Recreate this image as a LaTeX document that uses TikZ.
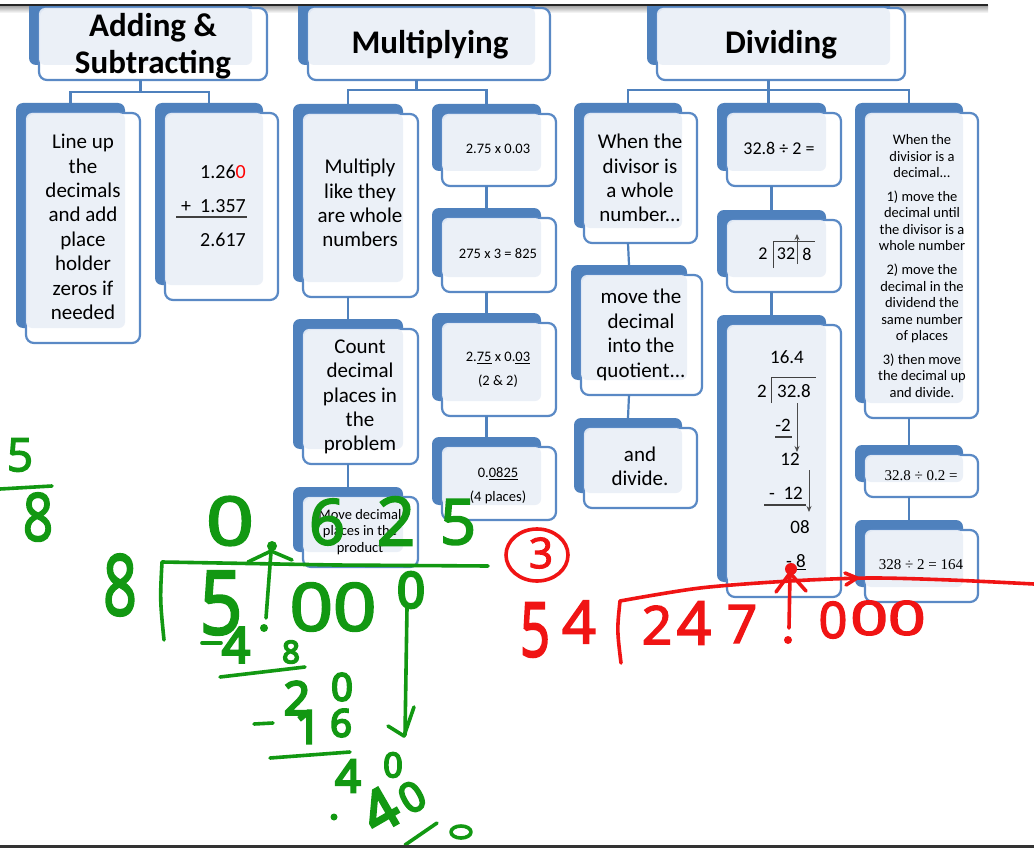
\documentclass[tikz,border=0pt]{standalone}
\usepackage{fontspec}
\setmainfont{Carlito}
\newfontfamily\timesfont{Liberation Serif}
\newfontfamily\handfont[FakeBold=3]{Open Sans}
\newfontfamily\handheavy[FakeBold=5.5]{Open Sans}
\usetikzlibrary{fit,arrows.meta,positioning}

\definecolor{cardblue}{HTML}{4F81BD}
\definecolor{cardedge}{HTML}{5A89C5}
\definecolor{cardfill}{HTML}{EAEFF7}
\definecolor{inkgreen}{HTML}{129812}
\definecolor{inkred}{HTML}{F01414}

\tikzset{
  backcard/.style={fill=cardblue, rounded corners=7pt},
  frontcard/.style={fill=white, draw=cardedge, line width=2.2pt, rounded corners=8pt},
  glass/.style={fill=cardfill, fill opacity=0.92, rounded corners=6pt},
  link/.style={draw=cardblue, line width=2.2pt},
  headtext/.style={font=\fontsize{33}{37}\selectfont\bfseries, align=center, inner sep=0pt},
  cardtext/.style={font=\fontsize{21}{24.4}\selectfont, align=center, inner sep=0pt},
  smalltext/.style={font=\fontsize{14.5}{16.5}\selectfont, align=center, inner sep=0pt},
  steptext/.style={font=\fontsize{14.5}{24}\selectfont, align=center, inner sep=0pt},
  notetext/.style={font=\fontsize{14.5}{16.6}\selectfont, align=center, inner sep=0pt},
  sumtext/.style={font=\fontsize{20}{34}\selectfont, align=right, inner sep=0pt},
  longtext/.style={font=\fontsize{19}{19}\selectfont, inner sep=0pt},
  divtext/.style={font=\fontsize{18}{18}\selectfont, inner sep=0pt},
  timestext/.style={font=\timesfont\fontsize{15}{15}\selectfont, inner sep=0pt},
  rulestroke/.style={draw=black!75, line width=1.3pt},
  bringdown/.style={draw=black!70, line width=0.8pt, -{Stealth[length=6pt,width=5pt]}},
  greenink/.style={draw=inkgreen, line width=3.6pt, line cap=round, line join=round},
  redink/.style={draw=inkred, line width=3.6pt, line cap=round, line join=round},
  greendigit/.style={text=inkgreen, inner sep=0pt, font=\handfont\fontsize{#1}{#1}\selectfont},
  greensmall/.style={text=inkgreen, inner sep=0pt, font=\handheavy\fontsize{#1}{#1}\selectfont},
  reddigit/.style={text=inkred, inner sep=0pt, font=\handfont\fontsize{#1}{#1}\selectfont},
}

% card: name, front top left, front bottom right
\newcommand{\smartcard}[3]{%
  \coordinate (#1-tl) at (#2);
  \coordinate (#1-br) at (#3);
  \coordinate (#1-btl) at ([shift={(-10,-10)}]#1-tl);
  \coordinate (#1-bbr) at ([shift={(-15,-15)}]#1-br);
  \node[fit=(#1-tl)(#1-br), inner sep=0pt] (#1) {};
  \node[fit=(#1-btl)(#1-bbr), inner sep=0pt] (#1-back) {};
  \fill[backcard] (#1-btl) rectangle (#1-bbr);
  \draw[frontcard] (#1-tl) rectangle (#1-br);
  \fill[glass] (#1-tl) rectangle (#1-bbr);
}

\begin{document}
\begin{tikzpicture}[x=1pt, y=-1pt]
\useasboundingbox (0,0) rectangle (1034,848);
\fill[white] (0,0) rectangle (1034,848);

%page edges
\shade[top color=black!35, bottom color=white] (0,6) rectangle (988,13);
\draw[black!85, line width=2.5pt] (0,5) -- (988,5);

\begin{scope}
\clip (0,7) rectangle (1034,848);
%headers
\smartcard{addhead}{39,8}{267,80}
\smartcard{mulhead}{308,8}{550,80}
\smartcard{divhead}{657,8}{905,80}
%adding column
\smartcard{addrule}{26,113}{140,343}
\smartcard{addsum}{165,113}{278,300}
%multiplying columns
\smartcard{mulwhole}{303,114}{418,297}
\smartcard{mulcount}{303,329}{418,464}
\smartcard{mulmove}{303,497}{418,567}
\smartcard{mulex}{442,114}{556,186}
\smartcard{mulint}{442,218}{556,292}
\smartcard{mulplaces}{442,323}{556,416}
\smartcard{mulprod}{442,447}{556,520}
%dividing columns
\smartcard{divwhole}{584,113}{697,243}
\smartcard{divmove}{581,275}{702,395}
\smartcard{divdivide}{584,428}{697,508}
\smartcard{divex}{727,113}{841,186}
\smartcard{divshift}{727,220}{841,292}
\smartcard{divlong}{727,325}{841,597}
\smartcard{divdec}{865,113}{978,418}
\smartcard{divtenth}{865,455}{978,497}
\smartcard{divscaled}{865,530}{978,602}
\end{scope}

%connectors
\draw[link] (addhead-back.center |- addhead.south) -- ++(0,12) coordinate (addfork);
\draw[link] (addrule-back.north) |- (addfork) -| (addsum-back.north);
\draw[link] (mulhead-back.center |- mulhead.south) -- ++(0,10) coordinate (mulfork);
\draw[link] (mulwhole-back.north) |- (mulfork) -| (mulex-back.north);
\draw[link] (divhead-back.center |- divhead.south) -- ++(0,10) coordinate (divfork);
\draw[link] (divwhole-back.north) |- (divfork) -| (divdec-back.north);
\draw[link] (divfork) -- (divfork |- divex-back.north);
\draw[link] (mulwhole-back.center |- mulwhole.south) -- (mulcount-back.north);
\draw[link] (mulcount-back.center |- mulcount.south) -- (mulmove-back.north);
\draw[link] (mulex-back.center |- mulex.south) -- (mulint-back.north);
\draw[link] (mulint-back.center |- mulint.south) -- (mulplaces-back.north);
\draw[link] (mulplaces-back.center |- mulplaces.south) -- (mulprod-back.north);
\draw[link] (divwhole-back.center |- divwhole.south) -- (divmove-back.north);
\draw[link] (divmove-back.center |- divmove.south) -- (divdivide-back.north);
\draw[link] (divex-back.center |- divex.south) -- (divshift-back.north);
\draw[link] (divshift-back.center |- divshift.south) -- (divlong-back.north);
\draw[link] (divdec-back.center |- divdec.south) -- (divtenth-back.north);
\draw[link] (divtenth-back.center |- divtenth.south) -- (divscaled-back.north);

%titles
\node[headtext] (addtitle) at (153,46) {Adding \&\\Subtracting};
\node[headtext] (multitle) at (430,45) {Multiplying};
\node[headtext] (divtitle) at (781,45) {Dividing};

%card texts
\node[cardtext] (addruletext) at (83,227) {Line up\\the\\decimals\\and add\\place\\holder\\zeros if\\needed};
\node[sumtext, anchor=east] (addsumtext) at (246,206) {1.26\textcolor{red}{0}\\+\ \ 1.357\\2.617};
\draw[rulestroke] (176,217) -- (247,217);
\node[cardtext] (mulwholetext) at (360,203) {Multiply\\like they\\are whole\\numbers};
\node[cardtext] (mulcounttext) at (360,397) {Count\\decimal\\places in\\the\\problem};
\node[smalltext] (mulmovetext) at (360,532) {Move decimal\\places in the\\product};
\node[steptext] (mulextext) at (498,149) {2.75 x 0.03};
\node[steptext] (mulinttext) at (498,254) {275 x 3 = 825};
\node[steptext] (mulplacestext) at (498,370) {2.\underline{75} x 0.\underline{03}\\(2 \& 2)};
\node[steptext] (mulprodtext) at (498,486) {0.\underline{0825}\\(4 places)};
\node[cardtext] (divwholetext) at (640,178) {When the\\divisor is\\a whole\\number...};
\node[cardtext] (divmovetext) at (641,335) {move the\\decimal\\into the\\quotient...};
\node[cardtext] (divdividetext) at (640,466) {and\\divide.};
\node[divtext] (divextext) at (779,148) {32.8 ÷ 2 =};
\node[notetext] (divdectext) at (922,266) {When the\\divisior is a\\decimal...\\[6.9pt]1) move the\\decimal until\\the divisor is a\\whole number\\[6.9pt]2) move the\\decimal in the\\dividend the\\same number\\of places\\[6.9pt]3) then move\\the decimal up\\and divide.};
\node[timestext] (divtenthtext) at (921,476) {32.8 ÷ 0.2 =};
\node[timestext] (divscaledtext) at (921,565) {328 ÷ 2 = 164};

%shifting the point
\node[divtext] (shiftdivisor) at (763,254) {2};
\node[divtext] (shiftleft) at (786,254) {32};
\node[divtext] (shiftright) at (807,254) {8};
\draw[rulestroke, line width=0.9pt] (773,268) -- (773,241) -- (815,241);
\draw[bringdown] (797,264) -- (797,234);

%long division
\node[longtext] (longquot) at (787,357) {16.4};
\node[longtext] (longdivisor) at (762,391) {2};
\node[longtext] (longdividend) at (794,391) {32.8};
\draw[rulestroke, line width=0.9pt] (771,403) -- (771,377) -- (816,377);
\node[longtext] (longsuba) at (783,425) {-2};
\draw[rulestroke] (775,437) -- (792,437);
\draw[bringdown] (797,403) -- (797,452);
\node[longtext] (longrema) at (790,459) {12};
\node[longtext] (longsubb) at (786,493) {-\ \ 12};
\draw[rulestroke] (764,505) -- (806,505);
\draw[bringdown] (809,470) -- (809,512);
\node[longtext] (longremb) at (800,527) {08};
\node[longtext] (longsubc) at (796,562) {-\ \underline{8}};

%green work
\node[greendigit=46] (gnum) at (20,455) {5};
\draw[greenink] (0,489) -- (52,486);
\node[greendigit=66, xscale=0.8] (gden) at (38,517) {8};
\node[greendigit=84, xscale=0.7] (gdivisor) at (120,585) {8};
\draw[greenink] (164,640) .. controls (160,600) .. (162,562) -- (335,565) -- (488,566);
\node[greendigit=67, xscale=1.25] (gq0) at (230,521) {0};
\fill[inkgreen] (272,546) circle (5);
\draw[greenink] (266,618) -- (271,552);
\draw[greenink] (248,562) -- (271,551) -- (292,560);
\node[greendigit=63] (gq6) at (327,522) {6};
\node[greendigit=67] (gq2) at (396,521) {2};
\node[greendigit=63] (gq5) at (458,522) {5};
\node[greendigit=88, xscale=0.85] (gd5) at (221,603) {5};
\node[greendigit=66, xscale=1.15] (gd00) at (333,607) {00};
\node[greensmall=49] (gd0) at (411,590) {0};
\draw[greenink] (407,608) -- (405,735);
\draw[greenink] (388,726) -- (404,736) -- (414,707);
\draw[greenink] (202,643) -- (221,643);
\node[greensmall=49] (gs4) at (236,645) {4};
\fill[inkgreen] (264,628) circle (4);
\node[greensmall=31] (gs8) at (291,652) {8};
\draw[greenink] (220,677) -- (305,667);
\node[greensmall=46] (gr2) at (297,698) {2};
\node[greensmall=38] (gr0) at (342,687) {0};
\draw[greenink] (254,724) -- (273,723);
\node[greensmall=46] (gs1) at (308,727) {1};
\node[greensmall=38] (gs6) at (341,723) {6};
\draw[greenink] (270,758) -- (350,752);
\node[greensmall=45] (gr4) at (348,776) {4};
\node[greensmall=34] (gr0b) at (393,765) {0};
\fill[inkgreen] (334,817) circle (3.5);
\node[greensmall=56, rotate=30] (gt4) at (380,810) {4};
\node[greensmall=41, rotate=30] (gt0) at (412,797) {0};
\draw[greenink] (405,845) -- (437,823);
\draw[greenink] (461,832) ellipse (10 and 6);

%red work
\draw[redink] (537,555) ellipse (31 and 26);
\node[reddigit=42] (rcircle3) at (541,553) {3};
\node[reddigit=75, xscale=0.7] (r5) at (535,630) {5};
\node[reddigit=59] (r4) at (579,622) {4};
\draw[redink] (621,663) .. controls (617,630) .. (620,601);
\draw[redink] plot[smooth] coordinates {(620,601) (700,588) (790,581) (870,578) (950,580) (1034,584)};
\draw[redink] (845,573) -- (857,578) -- (846,585);
\node[reddigit=53] (rd2) at (657,625) {2};
\node[reddigit=60] (rd4) at (694,623) {4};
\node[reddigit=53] (rd7) at (742,624) {7};
\fill[inkred] (788,640) circle (4);
\draw[redink] (789,628) -- (790,574);
\draw[redink] (776,592) -- (790,573) -- (806,591);
\fill[inkred] (791,569) circle (6);
\node[reddigit=50] (rd0) at (833,620) {0};
\node[reddigit=47, xscale=1.4] (rd00) at (888,618) {00};

\draw[black!80, line width=3pt] (0,846.5) -- (1034,846.5);
\end{tikzpicture}
\end{document}
